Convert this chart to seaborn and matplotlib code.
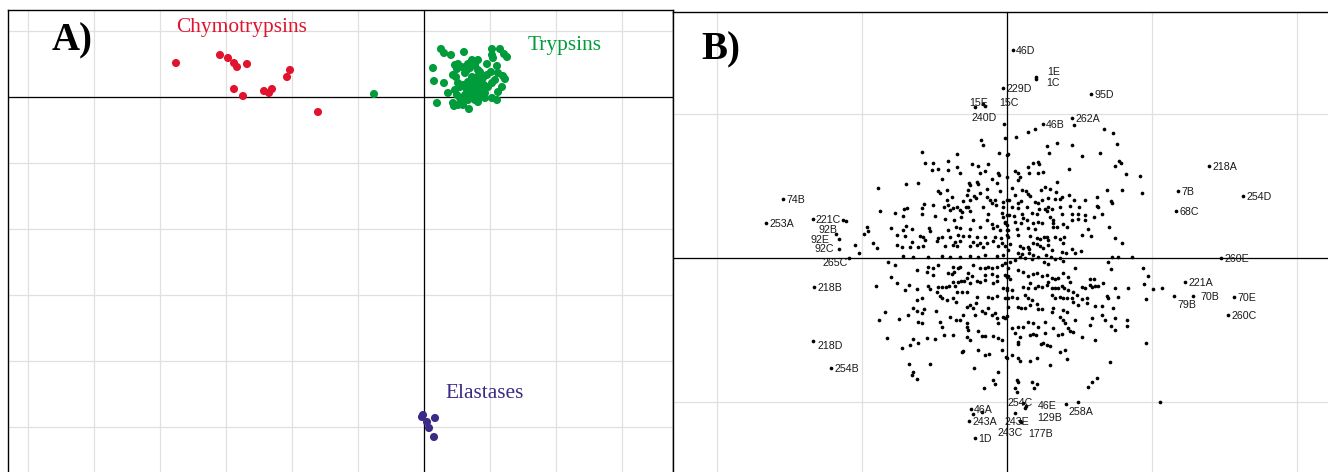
import numpy as np
import pandas as pd
import matplotlib
matplotlib.use("Agg")
import matplotlib.pyplot as plt
from matplotlib.ticker import MultipleLocator
import seaborn as sns

# ---- panel A: protease families, PC1 / PC2 scores (arbitrary units, grid step 66)
chymotrypsins = [(-248, 34), (-204, 42), (-196, 39), (-190, 34), (-187, 30), (-177, 33),
                 (-134, 27), (-137, 20), (-190, 8), (-181, 1), (-160, 6), (-155, 4),
                 (-152, 8), (-106, -15)]
trypsins = [(-50, 3), (17, 48), (20, 44), (27, 42), (40, 45), (68, 48), (76, 48), (80, 43),
            (83, 40), (68, 42), (69, 39), (9, 29), (10, 16), (20, 14), (24, 4), (13, -6),
            (31, 32), (34, 33), (38, 30), (44, 33), (46, 29), (51, 32), (54, 27), (63, 33),
            (67, 25), (73, 31), (74, 24), (79, 21), (81, 18), (29, 22), (32, 20), (34, 14),
            (31, 7), (33, 2), (29, -6), (30, -9), (45, -12), (68, -1), (74, 5), (73, -3),
            (41, 24), (48, 20), (53, 20), (50, 14), (56, 15), (60, 12), (58, 7), (54, 4),
            (48, 10), (43, 7), (41, 2), (36, -1), (38, -5), (44, -3), (51, -3), (56, 0),
            (61, 4), (64, 10), (68, 14), (71, 17), (78, 10), (44, 15), (39, 12), (36, 10),
            (59, 19), (63, 22), (56, 25), (53, 10), (49, 4), (46, 0), (61, -1), (34, -8),
            (39, -8), (54, -5), (48, 37), (43, 27), (54, 37), (33, 28)]
elastases = [(-1, -318), (-2, -320), (3, -325), (5, -331), (11, -321), (10, -340)]
family_names = ["Chymotrypsins", "Trypsins", "Elastases"]
family_colors = ["#e0142e", "#009c3b", "#3b2a86"]

# ---- panel B: individual residues (arbitrary units, grid step 145)
b_upper_left = [
    (-26, 118), (-24, 113), (-85, 106), (-50, 104), (-8, 105), (0, 103), (-82, 95), (-74, 95),
    (-59, 97), (-35, 94), (-29, 92), (-19, 94), (-75, 88), (-69, 89), (-59, 88), (-50, 91),
    (-47, 85), (-27, 85), (-22, 87), (-9, 85), (-8, 83), (-65, 79), (-15, 79), (0, 81),
    (-30, 76), (-29, 74), (-38, 75), (-37, 73), (-10, 75), (-101, 74), (-89, 75), (-129, 70),
    (-69, 67), (-67, 65), (-60, 68), (-39, 68), (-20, 69), (-7, 67), (-55, 61), (-40, 63),
    (-33, 62), (-27, 65), (-31, 60), (-20, 61), (-17, 58), (-12, 58), (-4, 56), (0, 58),
    (-60, 58), (-37, 58), (-44, 57), (-74, 53), (-83, 54), (-63, 51), (-59, 53), (-54, 50),
    (-50, 51), (-47, 48), (-41, 51), (-39, 51), (-24, 51), (-15, 55), (-11, 53), (-4, 51),
    (-127, 47), (-112, 45), (-103, 49), (-100, 50), (-104, 42), (-85, 44), (-85, 50), (-72, 42),
    (-57, 48), (-45, 46), (-37, 47), (-19, 44), (-5, 45), (-4, 41), (0, 43), (-62, 39),
    (-53, 38), (-46, 41), (-34, 38), (-20, 38), (-15, 34), (-10, 32), (-2, 36), (0, 33),
    (-116, 30), (-104, 28), (-101, 32), (-95, 29), (-78, 30), (-77, 27), (-59, 28), (-51, 31),
    (-47, 30), (-37, 29), (-27, 31), (-14, 30), (-7, 28), (1, 28), (-110, 23), (-102, 22),
    (-87, 22), (-84, 21), (-69, 20), (-65, 21), (-57, 21), (-49, 23), (-44, 22), (-38, 22),
    (-30, 21), (-22, 21), (-12, 21), (-6, 20), (0, 23), (-134, 15), (-95, 16), (-82, 18),
    (-70, 17), (-52, 16), (-47, 17), (-34, 16), (-27, 15), (-20, 15), (-14, 17), (-5, 15),
    (-130, 10), (-110, 13), (-105, 11), (-97, 11), (-89, 11), (-84, 12), (-62, 12), (-54, 13),
    (-50, 12), (-37, 12), (-30, 13), (-24, 11), (-9, 12), (-2, 12), (-104, 2), (-94, 1),
    (-79, 1), (-65, 2), (-57, 1), (-47, 1), (-37, 2), (-29, 1), (-22, 3), (-10, 2), (-4, 3),
    (-152, 13), (-148, 5), (-143, 24), (-140, 31), (-139, 27), (-2, 120), (-22, 152),
    (-164, 38), (-161, 37)]
b_upper_right = [
    (9, 121), (21, 126), (28, 129), (97, 129), (106, 125), (40, 112), (50, 115), (65, 113),
    (110, 114), (42, 105), (93, 105), (1, 104), (26, 95), (31, 96), (32, 94), (21, 91),
    (22, 85), (31, 85), (36, 86), (8, 87), (11, 85), (62, 89), (108, 92), (112, 97),
    (114, 95), (119, 84), (133, 82), (13, 81), (11, 78), (50, 76), (38, 71), (34, 68),
    (43, 69), (5, 70), (15, 68), (19, 67), (49, 66), (100, 68), (115, 68), (135, 65),
    (8, 63), (21, 64), (23, 62), (62, 63), (55, 61), (90, 61), (104, 57), (105, 55),
    (2, 58), (14, 57), (11, 55), (28, 56), (31, 55), (35, 58), (41, 60), (48, 59),
    (53, 59), (67, 58), (78, 58), (90, 52), (91, 51), (5, 51), (11, 50), (20, 51),
    (32, 49), (38, 49), (41, 51), (45, 49), (53, 51), (63, 52), (72, 51), (2, 43),
    (7, 42), (15, 44), (16, 40), (25, 45), (30, 44), (40, 47), (43, 41), (46, 38),
    (55, 44), (65, 44), (71, 44), (78, 43), (87, 41), (95, 44), (-2, 35), (8, 36),
    (14, 35), (20, 38), (26, 35), (31, 36), (35, 35), (46, 35), (50, 31), (56, 34),
    (65, 38), (71, 39), (78, 38), (0, 28), (10, 29), (21, 30), (28, 29), (46, 31),
    (60, 31), (81, 29), (102, 31), (1, 21), (11, 23), (23, 22), (30, 20), (33, 19),
    (37, 21), (40, 21), (41, 18), (48, 21), (53, 19), (57, 21), (75, 23), (84, 22),
    (108, 20), (115, 15), (3, 14), (13, 12), (16, 10), (21, 11), (22, 9), (26, 15),
    (30, 14), (33, 12), (36, 10), (41, 13), (45, 8), (56, 15), (65, 9), (68, 5),
    (74, 7), (1, 8), (11, 5), (15, 4), (22, 5), (26, 3), (31, 1), (39, 3),
    (44, 1), (55, 6), (59, 5), (105, 1), (111, 1), (125, 1), (75, 102), (67, 133)]
b_lower_left = [
    (-119, -4), (-112, -7), (-90, -12), (-79, -9), (-74, -10), (-69, -7), (-54, -9), (-49, -10),
    (-47, -9), (-34, -7), (-27, -10), (-22, -10), (-19, -9), (-15, -10), (-10, -9), (-5, -7),
    (-2, -5), (-116, -19), (-80, -14), (-74, -17), (-59, -15), (-55, -16), (-53, -14), (-39, -15),
    (-40, -20), (-35, -18), (-22, -17), (-15, -16), (-10, -18), (-2, -17), (0, -19), (-131, -28),
    (-110, -25), (-102, -32), (-98, -27), (-90, -31), (-79, -28), (-77, -31), (-69, -29), (-65, -29),
    (-61, -29), (-58, -28), (-54, -24), (-52, -28), (-49, -24), (-46, -23), (-43, -23), (-37, -25),
    (-30, -23), (-27, -24), (-22, -22), (-14, -25), (-10, -23), (-4, -30), (0, -32), (-70, -34),
    (-67, -38), (-65, -40), (-60, -42), (-54, -40), (-51, -44), (-50, -34), (-45, -34), (-40, -34),
    (-30, -39), (-19, -39), (-15, -40), (-10, -38), (-2, -40), (-90, -42), (-85, -40), (-122, -54),
    (-128, -62), (-108, -61), (-99, -57), (-94, -50), (-90, -53), (-85, -55), (-83, -51), (-71, -53),
    (-57, -59), (-51, -62), (-47, -62), (-44, -57), (-40, -49), (-37, -47), (-34, -50), (-31, -45),
    (-25, -53), (-22, -55), (-19, -50), (-15, -57), (-12, -55), (-10, -60), (-9, -65), (-4, -59),
    (0, -58), (-89, -64), (-85, -65), (-67, -64), (-65, -69), (-40, -65), (-40, -69), (-39, -72),
    (-32, -57), (-29, -73), (-25, -78), (-22, -78), (-14, -78), (-9, -80), (-5, -82), (-120, -80),
    (-105, -90), (-97, -87), (-94, -81), (-89, -85), (-80, -80), (-72, -81), (-63, -77), (-54, -77),
    (-45, -94), (-44, -93), (-40, -79), (-37, -82), (-29, -92), (-22, -97), (-18, -96), (-5, -92),
    (-1, -99), (-98, -106), (-77, -106), (-95, -117), (-94, -114), (-90, -121), (-33, -110), (-9, -114),
    (-14, -122), (-12, -126), (-23, -130), (-25, -154), (-34, -156)]
b_lower_right = [
    (3, -4), (8, -2), (13, 1), (18, 0), (25, -1), (37, -4), (41, -6), (48, -1), (53, 0), (56, -3),
    (68, -10), (1, -10), (11, -12), (16, -14), (21, -18), (26, -16), (30, -15), (35, -18),
    (40, -17), (45, -20), (48, -21), (51, -20), (56, -15), (61, -19), (83, -21), (87, -21),
    (101, -4), (104, -11), (136, -10), (141, -18), (1, -18), (3, -21), (0, -30), (5, -32),
    (5, -39), (1, -40), (10, -40), (16, -29), (21, -30), (23, -25), (28, -30), (31, -28),
    (35, -29), (40, -27), (41, -24), (45, -30), (48, -30), (51, -30), (55, -28), (57, -30),
    (61, -32), (63, -24), (66, -34), (70, -37), (75, -29), (78, -30), (83, -27), (85, -29),
    (88, -28), (91, -28), (96, -25), (108, -30), (121, -30), (137, -26), (146, -31), (155, -30),
    (18, -37), (21, -40), (25, -42), (23, -47), (30, -46), (31, -51), (35, -51), (45, -37),
    (48, -40), (53, -39), (56, -40), (60, -40), (65, -40), (66, -44), (71, -47), (75, -41),
    (80, -40), (80, -45), (88, -48), (95, -48), (100, -38), (101, -40), (106, -50), (111, -39),
    (139, -41), (11, -49), (14, -50), (18, -50), (1, -49), (-2, -60), (46, -50), (45, -54),
    (56, -52), (60, -54), (53, -59), (56, -62), (68, -62), (85, -60), (95, -57), (98, -62),
    (108, -60), (120, -62), (120, -68), (5, -70), (11, -69), (16, -69), (21, -64), (26, -65),
    (31, -69), (38, -64), (46, -70), (58, -65), (61, -70), (63, -73), (66, -74), (83, -67),
    (104, -68), (108, -72), (8, -75), (13, -79), (23, -77), (26, -76), (29, -77), (38, -75),
    (51, -77), (55, -76), (75, -79), (88, -82), (11, -84), (11, -86), (34, -86), (36, -85),
    (40, -87), (43, -88), (0, -100), (5, -97), (11, -100), (13, -103), (23, -103), (30, -100),
    (43, -107), (53, -94), (58, -92), (60, -101), (103, -104), (139, -85), (10, -122), (11, -124),
    (8, -130), (10, -134), (25, -124), (30, -126), (27, -130), (81, -129), (85, -124), (90, -120),
    (71, -144), (153, -144)]

b_labels = ["46D", "1E", "1C", "229D", "95D", "15E", "15C", "240D", "46B", "262A",
            "218A", "7B", "254D", "68C", "260E", "221A", "70B", "79B", "70E", "260C",
            "74B", "253A", "221C", "92B", "92E", "92C", "265C", "218B", "218D", "254B",
            "46A", "243A", "1D", "254C", "46E", "129B", "258A", "243E", "243C", "177B"]
b_label_pc1 = [6, 29, 29, -4, 84, -32, -24, -3, 36, 65,
               202, 171, 236, 169, 214, 178, 186, 167, 227, 221,
               -224, -241, -194, -171, -168, -168, -158, -193, -194, -176,
               -36, -38, -32, 16, 19, 18, 59, 8, 13, 14]
b_label_pc2 = [208, 181, 179, 170, 164, 151, 154, 134, 134, 140,
               92, 67, 62, 47, 0, -24, -38, -38, -39, -57,
               59, 35, 39, 24, 19, 9, 0, -29, -83, -110,
               -151, -163, -180, -145, -148, -150, -146, -155, -163, -164]

# text placement tweaks (pixels: dx, dy downwards, alignment)
LABEL_NUDGE = {"1E": (11, -5, "left"), "1C": (10, 4, "left"), "15E": (-6, -4, "left"),
               "15C": (16, -1, "left"), "240D": (-7, -6, "right"), "79B": (3, 9, "left"),
               "70B": (7, 1, "left"), "92B": (1, -4, "right"), "92E": (-10, 1, "right"),
               "92C": (-5, 0, "right"), "265C": (-27, 5, "left"), "218D": (5, 5, "left"),
               "254C": (-16, 0, "left"), "46E": (12, 0, "left"), "129B": (12, 10, "left"),
               "258A": (2, 8, "left"), "243E": (-11, 9, "left"), "243C": (-23, 12, "left"),
               "177B": (7, 12, "left")}

sns.set_style("white")
plt.rcParams["font.family"] = ["Liberation Serif", "DejaVu Serif"]

W, H = 1328, 472
fig = plt.figure(figsize=(W / 100, H / 100), dpi=100)

# axes extend below the figure edge: the panels are cropped at the bottom
ax_a = fig.add_axes([8 / W, -30 / H, 665 / W, (H - 10 + 30) / H])
ax_b = fig.add_axes([673 / W, -30 / H, 667 / W, (H - 12 + 30) / H])

grid_kw = dict(color="#e0e0e0", linewidth=0.9)

# ---------------- panel A
rows = []
for name, pts in zip(family_names, [chymotrypsins, trypsins, elastases]):
    for x, y in pts:
        rows.append({"pc1": x, "pc2": y, "family": name})
df_a = pd.DataFrame(rows)

ax_a.set_xlim(-416, 249)
ax_a.set_ylim(-405, 87)
ax_a.xaxis.set_major_locator(MultipleLocator(66))
ax_a.yaxis.set_major_locator(MultipleLocator(66))
ax_a.grid(True, **grid_kw)
ax_a.set_axisbelow(True)
ax_a.axhline(0, color="black", lw=0.9, zorder=1)
ax_a.axvline(0, color="black", lw=0.9, zorder=1)
sns.scatterplot(data=df_a, x="pc1", y="pc2", hue="family", hue_order=family_names,
                palette=family_colors, s=34, linewidth=0, legend=False, ax=ax_a, zorder=3)

ax_a.text(-248, 65, "Chymotrypsins", color=family_colors[0], fontsize=15.4)
ax_a.text(104, 47, "Trypsins", color=family_colors[1], fontsize=15.4)
ax_a.text(21, -301, "Elastases", color=family_colors[2], fontsize=15.4)
ax_a.text(-372, 47, "A)", fontsize=28, fontweight="bold", color="black")

# ---------------- panel B
df_b = pd.DataFrame(b_upper_left + b_upper_right + b_lower_left + b_lower_right,
                    columns=["pc1", "pc2"])
df_lab = pd.DataFrame({"pc1": b_label_pc1, "pc2": b_label_pc2, "label": b_labels})

ax_b.set_xlim(-334, 333)
ax_b.set_ylim(-244, 246)
ax_b.xaxis.set_major_locator(MultipleLocator(145))
ax_b.yaxis.set_major_locator(MultipleLocator(144))
ax_b.grid(True, **grid_kw)
ax_b.set_axisbelow(True)
ax_b.axhline(0, color="black", lw=0.9, zorder=1)
ax_b.axvline(0, color="black", lw=0.9, zorder=1)
sns.scatterplot(data=df_b, x="pc1", y="pc2", color="black", s=7, linewidth=0,
                legend=False, ax=ax_b, zorder=3)
sns.scatterplot(data=df_lab, x="pc1", y="pc2", color="black", s=7, linewidth=0,
                legend=False, ax=ax_b, zorder=3)
for _, r in df_lab.iterrows():
    dx, dy, ha = LABEL_NUDGE.get(r["label"], (3, 1, "left"))
    ax_b.annotate(r["label"], (r["pc1"], r["pc2"]), xytext=(dx, -dy),
                  textcoords="offset pixels", ha=ha, va="center",
                  fontsize=7.7, family=["Liberation Sans", "DejaVu Sans"],
                  color="#1a1a1a", zorder=4)
ax_b.text(-306, 199, "B)", fontsize=28, fontweight="bold", color="black")

for ax in (ax_a, ax_b):
    ax.set_xlabel("")
    ax.set_ylabel("")
    ax.tick_params(left=False, bottom=False, labelleft=False, labelbottom=False)
    for side in ("top", "left", "right"):
        ax.spines[side].set_color("black")
        ax.spines[side].set_linewidth(1.0)
    ax.spines["bottom"].set_visible(False)
ax_b.spines["right"].set_visible(False)

fig.savefig("out.png", dpi=100)
